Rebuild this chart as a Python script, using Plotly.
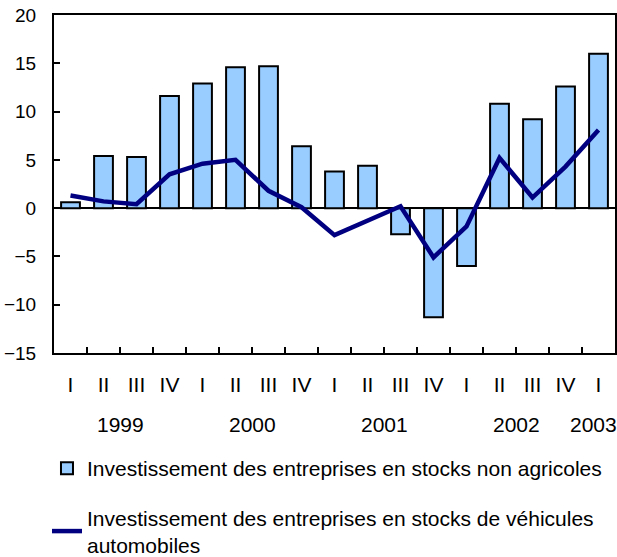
import plotly.graph_objects as go

# trimestres 1999 T1 -> 2003 T1
quarters = ["I", "II", "III", "IV", "I", "II", "III", "IV", "I",
            "II", "III", "IV", "I", "II", "III", "IV", "I"]
years = ["1999", "2000", "2001", "2002", "2003"]
year_pos = [1.5, 5.5, 9.5, 13.5, 15.85]

non_agricoles = [0.6, 5.4, 5.3, 11.6, 12.9, 14.6, 14.7, 6.4, 3.8,
                 4.4, -2.7, -11.3, -6.0, 10.8, 9.2, 12.6, 16.0]
vehicules = [1.3, 0.7, 0.4, 3.5, 4.6, 5.0, 1.8, 0.1, -2.8,
             -1.3, 0.2, -5.1, -1.9, 5.2, 1.1, 4.3, 8.1]

x = list(range(len(quarters)))
font = "Liberation Sans, Arial, sans-serif"

fig = go.Figure()
fig.add_trace(go.Bar(
    x=x, y=non_agricoles, width=0.57,
    marker=dict(color="#99CCFF", line=dict(color="black", width=2)),
    name="Investissement des entreprises en stocks non agricoles",
    legendgroup="a",
))
fig.add_trace(go.Scatter(
    x=x, y=vehicules, mode="lines",
    line=dict(color="#000080", width=4.5),
    name="Investissement des entreprises en stocks de véhicules<br>automobiles",
    legendgroup="b",
))

fig.update_layout(
    width=617, height=557,
    margin=dict(l=54, r=2, t=15, b=204, autoexpand=False),
    plot_bgcolor="white", paper_bgcolor="white",
    font=dict(family=font, size=20, color="black"),
    legend=dict(x=-0.0125, y=-0.281, xanchor="left", yanchor="top",
                tracegroupgap=19, font=dict(size=21),
                itemwidth=30),
    xaxis=dict(
        range=[-0.5, 16.5], tickmode="array", tickvals=x, ticktext=quarters,
        ticks="", showgrid=False, showline=True, mirror=True,
        linecolor="black", linewidth=2, ticklabelstandoff=12,
        zeroline=False, automargin=False, tickfont=dict(size=21),
        ticklabeloverflow="allow",
    ),
    xaxis2=dict(
        overlaying="x", matches="x", anchor="y", side="bottom",
        tickmode="array", tickvals=[i + 0.5 for i in x[:-1]],
        ticks="inside", ticklen=6, tickwidth=2, tickcolor="black",
        showticklabels=False, showgrid=False, showline=False,
        zeroline=False, automargin=False,
    ),
    yaxis=dict(
        range=[-15, 20], tickmode="array", tickvals=list(range(-15, 25, 5)),
        ticks="inside", ticklen=6, tickwidth=2, tickcolor="black",
        showgrid=False, showline=True, mirror=True,
        linecolor="black", linewidth=2,
        zeroline=True, zerolinecolor="black", zerolinewidth=2,
        ticklabelstandoff=12, tickfont=dict(size=19), automargin=False,
        ticklabeloverflow="allow",
    ),
)

# axe secondaire invisible, juste pour les graduations entre trimestres
fig.add_trace(go.Scatter(x=[0], y=[0], xaxis="x2", mode="markers",
                         marker=dict(opacity=0), showlegend=False,
                         hoverinfo="skip"))

for yr, pos in zip(years, year_pos):
    fig.add_annotation(x=pos, y=-0.213, xref="x", yref="paper",
                       yanchor="middle", text=yr, showarrow=False,
                       font=dict(size=21))

# pas de marge de page ni de barres de defilement
fig.write_html("out.html", config={"displayModeBar": False}, post_script=(
    "document.body.style.margin='0';"
    "document.documentElement.style.overflow='hidden';"
))
